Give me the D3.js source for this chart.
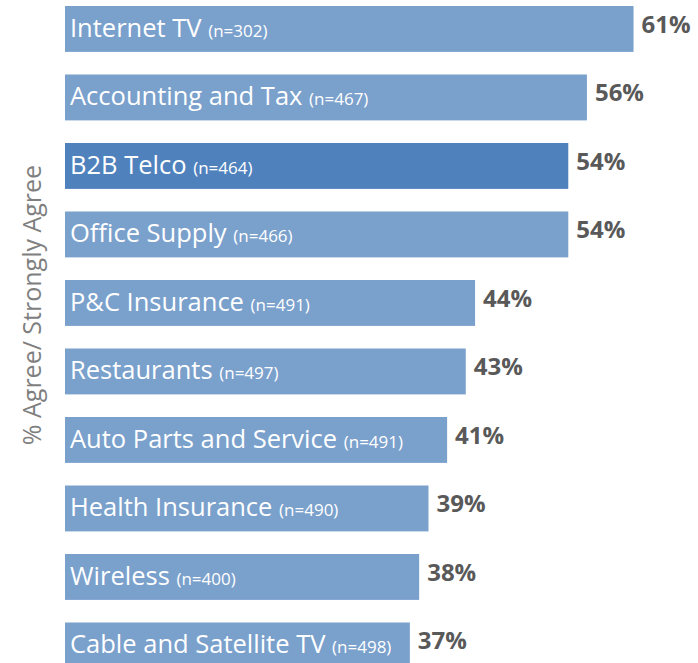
<!DOCTYPE html>
<html><head><meta charset="utf-8">
<script src="https://cdn.jsdelivr.net/npm/d3@7"></script>
<style>body{margin:0;background:#fff}svg{display:block}</style>
</head><body>
<script>
const categories = ["Internet TV","Accounting and Tax","B2B Telco","Office Supply","P&C Insurance","Restaurants","Auto Parts and Service","Health Insurance","Wireless","Cable and Satellite TV"];
const sampleSizes = ["302","467","464","466","491","497","491","490","400","498"];
const values = [61,56,54,54,44,43,41,39,38,37];
const highlight = "B2B Telco";
const axisTitle = "% Agree/ Strongly Agree";

const W = 698, H = 663;
const svg = d3.select("body").append("svg").attr("width", W).attr("height", H);
const x = d3.scaleLinear().domain([0, 100]).range([65, 997]);
const y = d3.scaleBand().domain(categories).range([6, 6 + 68.5 * 9.67]).paddingInner(0.33).paddingOuter(0);

const g = svg.selectAll("g.bar").data(categories).enter().append("g");
g.append("rect")
  .attr("x", x(0)).attr("y", d => y(d))
  .attr("width", (d,i) => x(values[i]) - x(0))
  .attr("height", y.bandwidth())
  .attr("fill", d => d === highlight ? "#4f81bd" : "#7aa0cc");

const lbl = g.append("text")
  .attr("x", x(0) + 5).attr("y", d => y(d) + y.bandwidth()/2 + 8)
  .attr("font-family", "'Open Sans', sans-serif").attr("fill", "#fff");
lbl.append("tspan").attr("font-size", 25.5).text(d => d + " ");
lbl.append("tspan").attr("font-size", 17).text((d,i) => "(n=" + sampleSizes[i] + ")");

g.append("text")
  .attr("x", (d,i) => x(values[i]) + 8)
  .attr("y", d => y(d) + y.bandwidth()/2 + 4)
  .attr("font-family", "'Open Sans', sans-serif").attr("font-weight", "bold")
  .attr("font-size", 24).attr("fill", "#595959")
  .text((d,i) => values[i] + "%");

svg.append("text")
  .attr("transform", "translate(41,305) rotate(-90)")
  .attr("text-anchor", "middle")
  .attr("font-family", "'Open Sans', sans-serif").attr("font-size", 25).attr("fill", "#7f7f7f")
  .text(axisTitle);
</script>
</body></html>
